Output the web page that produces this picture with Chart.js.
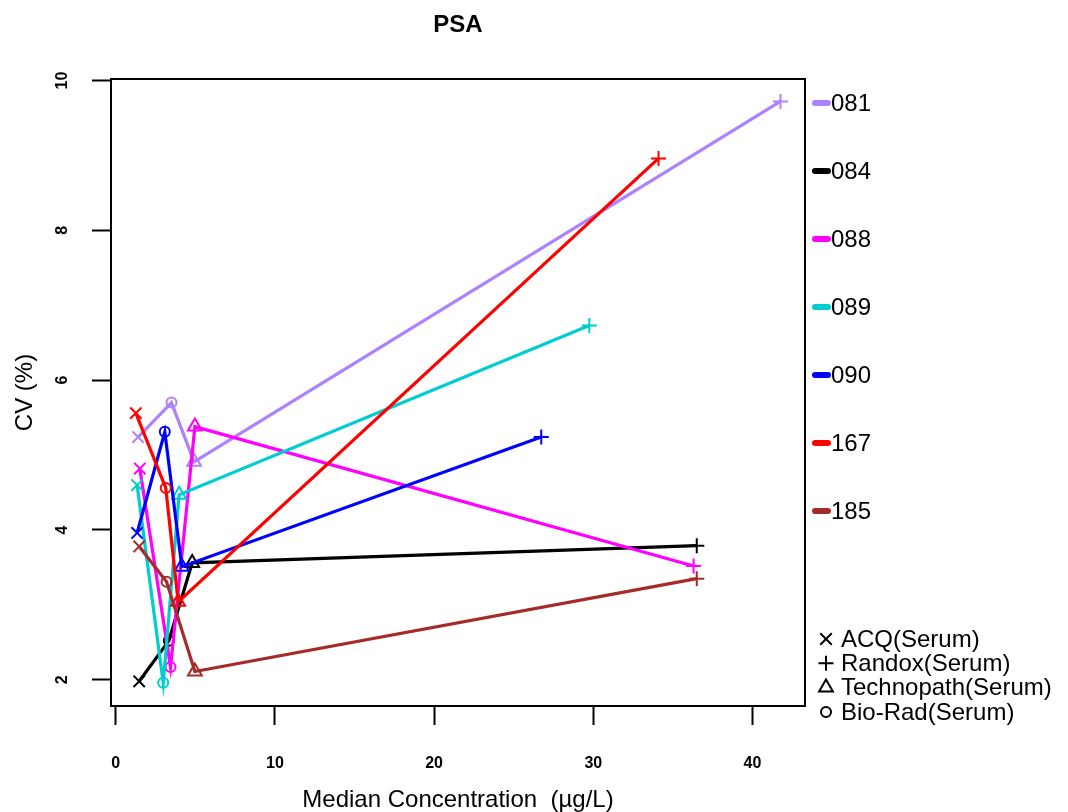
<!DOCTYPE html>
<html>
<head>
<meta charset="utf-8">
<title>PSA</title>
<script src="https://cdn.jsdelivr.net/npm/chart.js@4/dist/chart.umd.min.js"></script>
<style>
  html, body { margin: 0; padding: 0; background: #fff; }
  canvas { display: block; }
</style>
</head>
<body>
<canvas id="psaChart" width="1068" height="812"></canvas>
<script>
// labs, one line each
const labs = ["081", "084", "088", "089", "090", "167", "185"];
const labColors = ["#AB82FF", "#000000", "#FF00FF", "#00CDCD", "#0000FF", "#FF0000", "#A52A2A"];

// control materials, one marker each
const materials = ["ACQ(Serum)", "Randox(Serum)", "Technopath(Serum)", "Bio-Rad(Serum)"];
const materialMarkers = ["crossRot", "cross", "triangle", "circle"];
const markerRadius = [8, 7.5, 8, 5];

// median concentration (ug/L) per lab, for each material
const acqConc     = [1.40, 1.47, 1.51, 1.34, 1.34, 1.26, 1.47];
const randoxConc  = [41.76, 36.5, 36.3, 29.75, 26.73, 34.1, 36.5];
const technoConc  = [4.92, 4.80, 4.97, 3.98, 4.15, 3.92, 4.97];
const bioradConc  = [3.50, 3.33, 3.44, 2.98, 3.08, 3.14, 3.19];

// CV (%) per lab, for each material
const acqCv     = [5.24, 1.98, 4.82, 4.60, 3.96, 5.56, 3.78];
const randoxCv  = [9.72, 3.79, 3.52, 6.73, 5.24, 8.96, 3.35];
const technoCv  = [4.91, 3.56, 5.38, 4.47, 3.51, 3.04, 2.11];
const bioradCv  = [5.70, 2.52, 2.17, 1.96, 5.31, 4.56, 3.31];

// axis ticks
const xTicks = [0, 10, 20, 30, 40];
const yTicks = [2, 4, 6, 8, 10];

const FONT = "'Liberation Sans', Arial, Helvetica, sans-serif";

const concByMaterial = [acqConc, randoxConc, technoConc, bioradConc];
const cvByMaterial = [acqCv, randoxCv, technoCv, bioradCv];

// each lab gets its four points joined in order of concentration
const datasets = labs.map((lab, i) => {
  let pts = materials.map((m, k) => ({ x: concByMaterial[k][i], y: cvByMaterial[k][i], m: k }));
  pts.sort((a, b) => a.x - b.x);
  return {
    label: lab,
    data: pts,
    showLine: true,
    order: labs.length - i,
    borderColor: labColors[i],
    backgroundColor: "rgba(0,0,0,0)",
    borderWidth: 3.2,
    pointBorderColor: labColors[i],
    pointBackgroundColor: "rgba(0,0,0,0)",
    pointBorderWidth: 2,
    pointStyle: ctx => (ctx.raw ? materialMarkers[ctx.raw.m] : "circle"),
    pointRadius: ctx => (ctx.raw ? markerRadius[ctx.raw.m] : 5),
    pointHoverRadius: ctx => (ctx.raw ? markerRadius[ctx.raw.m] : 5)
  };
});

function drawMarker(ctx, style, x, y, r) {
  ctx.beginPath();
  if (style === "crossRot") {
    const d = r * 0.72;
    ctx.moveTo(x - d, y - d); ctx.lineTo(x + d, y + d);
    ctx.moveTo(x + d, y - d); ctx.lineTo(x - d, y + d);
  } else if (style === "cross") {
    ctx.moveTo(x - r, y); ctx.lineTo(x + r, y);
    ctx.moveTo(x, y - r); ctx.lineTo(x, y + r);
  } else if (style === "triangle") {
    ctx.moveTo(x, y - r);
    ctx.lineTo(x + r * 0.866, y + r * 0.5);
    ctx.lineTo(x - r * 0.866, y + r * 0.5);
    ctx.closePath();
  } else {
    ctx.arc(x, y, r, 0, Math.PI * 2);
  }
  ctx.stroke();
}

// frame, titles, rotated y labels and the two legends
const decorPlugin = {
  id: "decor",
  afterDraw(chart) {
    const { ctx, chartArea: a, scales } = chart;
    ctx.save();
    ctx.strokeStyle = "#000";
    ctx.fillStyle = "#000";
    ctx.lineWidth = 2;
    ctx.strokeRect(a.left, a.top, a.right - a.left, a.bottom - a.top);

    // y tick labels read bottom to top
    ctx.font = "bold 16px " + FONT;
    ctx.textAlign = "center";
    ctx.textBaseline = "middle";
    scales.y.ticks.forEach(t => {
      const py = scales.y.getPixelForValue(t.value);
      ctx.save();
      ctx.translate(63, py);
      ctx.rotate(-Math.PI / 2);
      ctx.fillText(String(t.value), 0, 0);
      ctx.restore();
    });

    // titles
    ctx.font = "bold 24px " + FONT;
    ctx.fillText("PSA", (a.left + a.right) / 2, 25);
    ctx.font = "24px " + FONT;
    ctx.fillText("Median Concentration  (\u00b5g/L)", (a.left + a.right) / 2, 800);
    ctx.save();
    ctx.translate(25, (a.top + a.bottom) / 2);
    ctx.rotate(-Math.PI / 2);
    ctx.fillText("CV (%)", 0, 0);
    ctx.restore();

    // lab legend
    ctx.textAlign = "left";
    labs.forEach((lab, i) => {
      const ly = 103 + i * 68;
      ctx.strokeStyle = labColors[i];
      ctx.lineWidth = 6;
      ctx.lineCap = "round";
      ctx.beginPath();
      ctx.moveTo(815, ly);
      ctx.lineTo(828, ly);
      ctx.stroke();
      ctx.fillStyle = "#000";
      ctx.fillText(lab, 831, ly + 1);
    });

    // material legend
    ctx.lineCap = "butt";
    ctx.strokeStyle = "#000";
    ctx.lineWidth = 2;
    materials.forEach((m, k) => {
      const ly = 639 + k * 24.3;
      drawMarker(ctx, materialMarkers[k], 826, ly, markerRadius[k]);
      ctx.fillText(m, 841, ly + 1);
    });
    ctx.restore();
  }
};

new Chart(document.getElementById("psaChart"), {
  type: "scatter",
  data: { datasets: datasets },
  plugins: [decorPlugin],
  options: {
    responsive: false,
    animation: false,
    layout: { padding: { left: 0, top: 79, right: 263, bottom: 0 } },
    plugins: {
      legend: { display: false },
      tooltip: { enabled: false },
      title: { display: false }
    },
    scales: {
      x: {
        type: "linear",
        min: -0.3,
        max: 43.3,
        afterFit: s => { s.height = 106; },
        afterBuildTicks: s => { s.ticks = xTicks.map(v => ({ value: v })); },
        border: { display: false },
        grid: { drawOnChartArea: false, drawTicks: true, tickLength: 19, tickColor: "#000", tickWidth: 2 },
        ticks: { color: "#000", font: { family: FONT, size: 16, weight: "bold" }, padding: 29, maxRotation: 0 }
      },
      y: {
        type: "linear",
        min: 1.65,
        max: 10.02,
        afterFit: s => { s.width = 111; },
        afterBuildTicks: s => { s.ticks = yTicks.map(v => ({ value: v })); },
        border: { display: false },
        grid: { drawOnChartArea: false, drawTicks: true, tickLength: 19, tickColor: "#000", tickWidth: 2 },
        ticks: { color: "rgba(0,0,0,0)", font: { family: FONT, size: 16 } }
      }
    }
  }
});
</script>
</body>
</html>
